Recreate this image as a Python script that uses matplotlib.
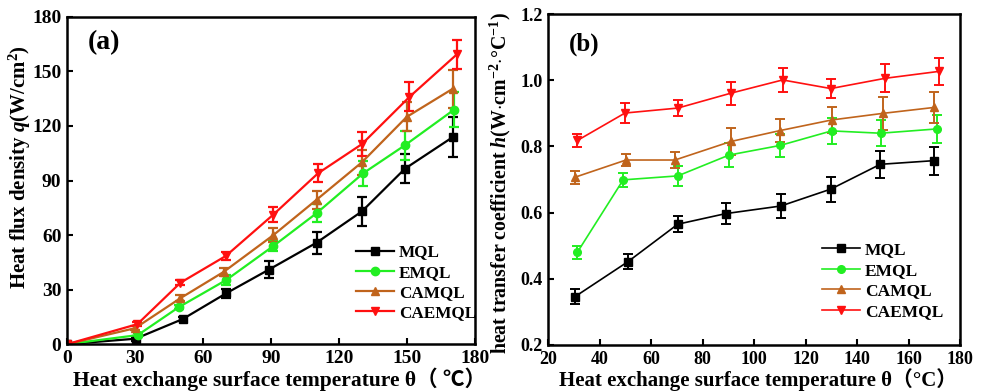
import matplotlib
matplotlib.use("Agg")
import matplotlib.pyplot as plt
from matplotlib.lines import Line2D

plt.rcParams['font.family'] = ['Liberation Serif', 'Noto Sans CJK SC', 'DejaVu Sans']
plt.rcParams['font.weight'] = 'bold'
plt.rcParams['mathtext.fontset'] = 'custom'
plt.rcParams['mathtext.rm'] = 'Liberation Serif:bold'
plt.rcParams['mathtext.it'] = 'Liberation Serif:italic:bold'
plt.rcParams['mathtext.bf'] = 'Liberation Serif:bold'

series = ['MQL', 'EMQL', 'CAMQL', 'CAEMQL']
colors = ['#000000', '#22ee22', '#c0641c', '#ff1010']
markers = ['s', 'o', '^', 'v']

# Panel (a): heat flux density
a_x = {
    'MQL':    [0, 30.2, 51, 70.2, 89, 110, 130, 149, 170],
    'EMQL':   [0, 31.2, 49.2, 70.2, 91, 110, 130.6, 149, 170.7],
    'CAMQL':  [0, 30, 50, 69, 91, 110, 130, 149.8, 170],
    'CAEMQL': [0, 31, 50, 70, 91, 110.7, 130, 151, 172],
}
a_y = {
    'MQL':    [0, 3, 13.8, 28, 41, 55.8, 73, 96.5, 113.8],
    'EMQL':   [0, 5, 20.3, 35.3, 54, 72, 94, 109.4, 129],
    'CAMQL':  [0, 8.8, 25.3, 39.7, 60, 79.4, 100, 125, 140.4],
    'CAEMQL': [0, 11, 33.8, 48.5, 71.3, 94, 110, 136, 159.5],
}
a_err = {
    'MQL':    [0, 1, 1, 2.5, 4.5, 6, 8, 8, 11],
    'EMQL':   [0, 1, 1, 2.5, 3, 5, 7, 8, 9.5],
    'CAMQL':  [0, 1, 1.5, 2, 4, 5, 7, 8, 10.5],
    'CAEMQL': [0, 1, 1.5, 2, 4, 5, 6.5, 8, 8],
}

# Panel (b): heat transfer coefficient
b_x = {
    'MQL':    [30.4, 51, 70.3, 88.9, 110.3, 129.7, 148.9, 169.6],
    'EMQL':   [31.3, 49.1, 70.3, 90.2, 110, 130, 149, 170.9],
    'CAMQL':  [30.4, 50.2, 69.2, 90.9, 110, 130, 149.9, 169.9],
    'CAEMQL': [31.3, 49.8, 70.3, 90.9, 111, 129.7, 150.8, 171.8],
}
b_y = {
    'MQL':    [0.346, 0.452, 0.565, 0.597, 0.620, 0.671, 0.746, 0.757],
    'EMQL':   [0.480, 0.699, 0.711, 0.774, 0.803, 0.847, 0.840, 0.853],
    'CAMQL':  [0.707, 0.759, 0.759, 0.815, 0.848, 0.880, 0.900, 0.918],
    'CAEMQL': [0.818, 0.901, 0.916, 0.961, 1.001, 0.975, 1.006, 1.027],
}
b_err = {
    'MQL':    [0.022, 0.022, 0.025, 0.032, 0.035, 0.038, 0.04, 0.042],
    'EMQL':   [0.02, 0.022, 0.03, 0.035, 0.035, 0.04, 0.04, 0.042],
    'CAMQL':  [0.02, 0.017, 0.025, 0.042, 0.036, 0.038, 0.05, 0.048],
    'CAEMQL': [0.02, 0.03, 0.025, 0.035, 0.035, 0.028, 0.042, 0.04],
}

fig = plt.figure(figsize=(9.86, 3.92), dpi=100)
ax1 = fig.add_axes([0.068, 0.122, 0.414, 0.835])
ax2 = fig.add_axes([0.556, 0.120, 0.418, 0.844])

for s, c, m in zip(series, colors, markers):
    ax1.errorbar(a_x[s], a_y[s], yerr=a_err[s], color=c, marker=m, markersize=6,
                 lw=1.6, elinewidth=1.6, capsize=3.5, capthick=1.6)
    ax2.errorbar(b_x[s], b_y[s], yerr=b_err[s], color=c, marker=m, markersize=5.5,
                 lw=1.2, elinewidth=1.4, capsize=3.5, capthick=1.4)

ax1.set_xlim(0, 180)
ax1.set_ylim(0, 180)
ax1.set_xticks(range(0, 181, 30))
ax1.set_yticks(range(0, 181, 30))
ax2.set_xlim(20, 180)
ax2.set_ylim(0.2, 1.2)
ax2.set_xticks(range(20, 181, 20))
ax2.set_yticks([0.2, 0.4, 0.6, 0.8, 1.0, 1.2])
ax2.set_yticklabels(['0.2', '0.4', '0.6', '0.8', '1.0', '1.2'])

for ax, fs in ((ax1, 14), (ax2, 13)):
    for sp in ax.spines.values():
        sp.set_linewidth(1.8)
    ax.tick_params(direction='in', length=4, width=1.5, labelsize=fs, pad=4)
    for lab in ax.get_xticklabels() + ax.get_yticklabels():
        lab.set_fontweight('bold')

ax1.set_xlabel('Heat exchange surface temperature θ（ ℃）', fontsize=15.5, fontweight='bold')
ax1.xaxis.set_label_coords(0.52, -0.072)
ax1.set_ylabel(r'Heat flux density $\mathit{q}$(W/cm$^2$)', fontsize=15, fontweight='bold')
ax1.yaxis.set_label_coords(-0.083, 0.54)
ax2.set_xlabel('Heat exchange surface temperature θ（°C）', fontsize=15, fontweight='bold')
ax2.xaxis.set_label_coords(0.51, -0.071)
ax2.set_ylabel(r'heat transfer coefficient $\mathit{h}$(W$\cdot$cm$^{-2}$$\cdot$°C$^{-1}$)',
               fontsize=14.3, fontweight='bold')
ax2.yaxis.set_label_coords(-0.085, 0.49)

ax1.text(0.05, 0.9, '(a)', transform=ax1.transAxes, fontsize=20, fontweight='bold')
ax2.text(0.05, 0.89, '(b)', transform=ax2.transAxes, fontsize=18, fontweight='bold')

for ax, fs, loc, ms, lw in ((ax1, 12.3, (0.70, 0.187), 6, 1.6), (ax2, 12.5, (0.655, 0.193), 5.5, 1.2)):
    handles = [Line2D([], [], color=c, marker=m, markersize=ms, lw=lw)
               for c, m in zip(colors, markers)]
    ax.legend(handles, series, loc='center left', bbox_to_anchor=loc, frameon=False,
              prop={'family': 'Liberation Serif', 'weight': 'bold', 'size': fs},
              handlelength=2.2, handletextpad=0.3, labelspacing=0.25, borderpad=0.2,
              borderaxespad=0)

fig.savefig('out.png', dpi=100)
